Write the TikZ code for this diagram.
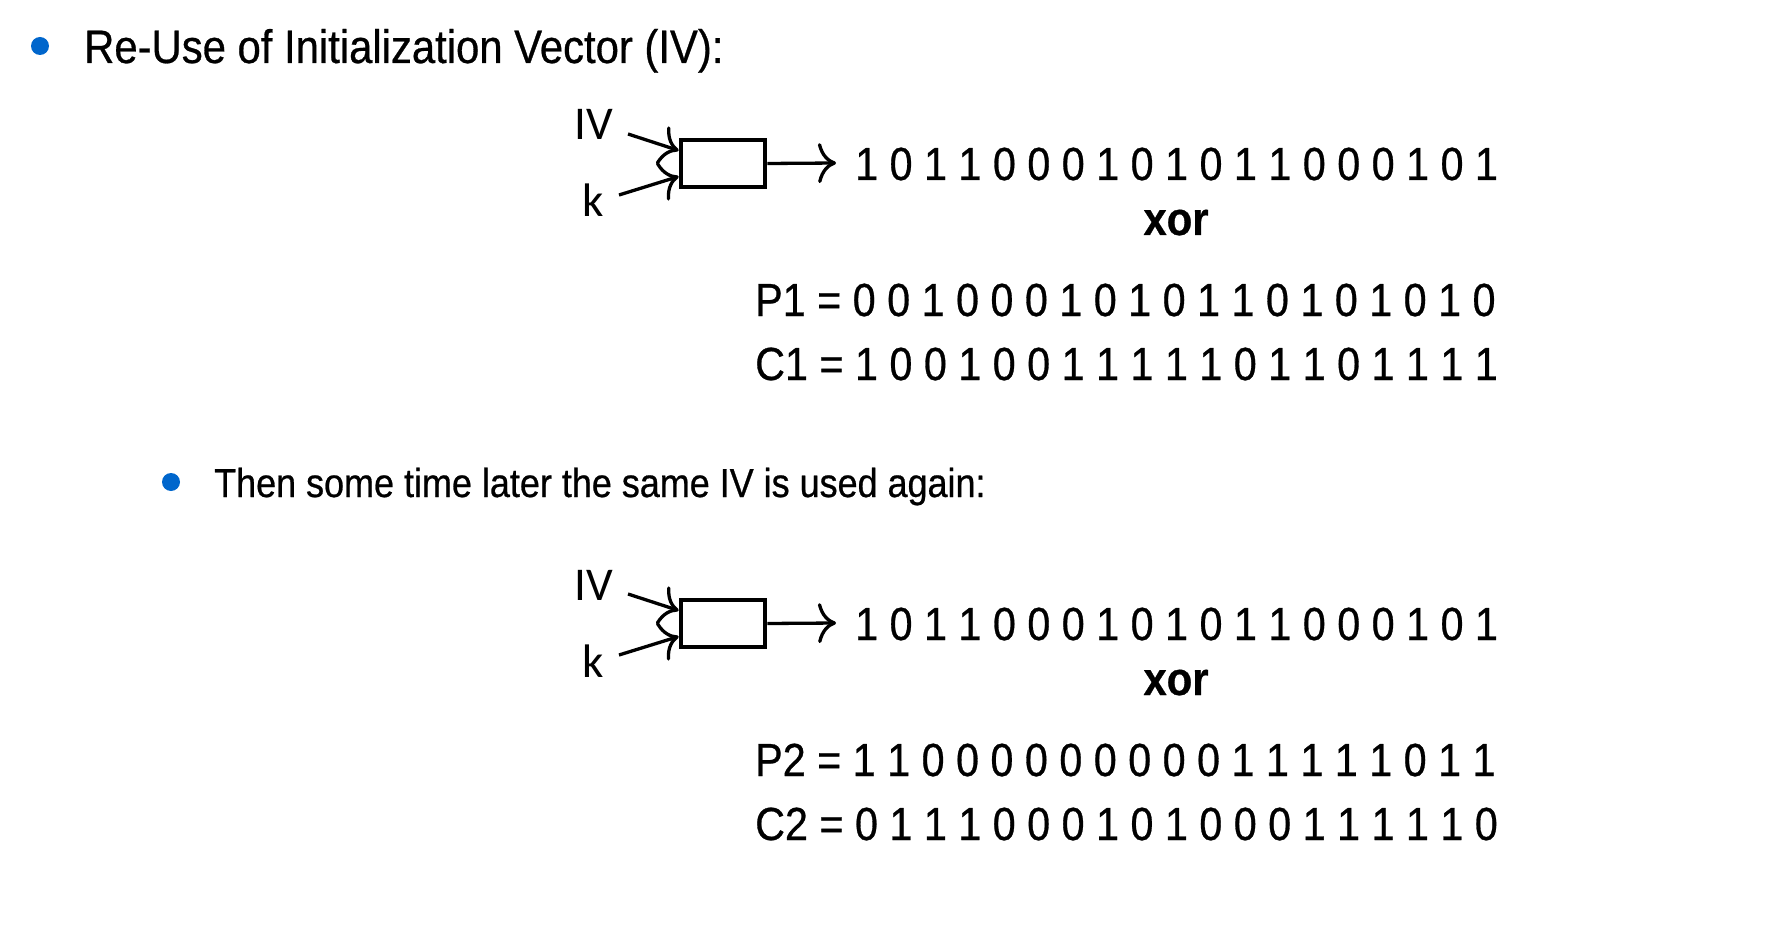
\documentclass[tikz,border=0pt]{standalone}
\usepackage{fontspec}
\setmainfont{Liberation Sans}[FakeStretch=0.89,FakeBold=0.6]
\newfontfamily\calib{Carlito}
\usetikzlibrary{arrows.meta,calc}
\definecolor{bulletblue}{RGB}{0,102,204}
\begin{document}
\begin{tikzpicture}[x=1pt,y=-1pt,
  txt/.style={inner sep=0pt, anchor=base west, font=\fontsize{47}{56}\selectfont},
  bits/.style={inner sep=0pt, anchor=base west, font=\fontsize{46.4}{56}\selectfont},
  subtxt/.style={inner sep=0pt, anchor=base west, font=\fontsize{40.4}{49}\selectfont},
  lbl/.style={inner sep=0pt, anchor=base west, font=\calib\fontsize{47}{56}\selectfont},
  xorlbl/.style={inner sep=0pt, anchor=base, font=\bfseries\fontsize{47}{56}\selectfont},
  bullet/.style={circle, fill=bulletblue, inner sep=0pt, minimum size=18pt},
  boxst/.style={draw, line width=4.7pt, minimum width=84pt, minimum height=47pt, inner sep=0pt},
  arr/.style={line width=3.3pt, -{Computer Modern Rightarrow[length=18pt,width=40pt,line width=3.3pt]}}]
\useasboundingbox (0,0) rectangle (1771,933);

\node[bullet] (b1) at (40,46) {};
\node[txt] (title) at (84,63) {Re-Use of Initialization Vector (IV):};

\node[bullet] (b2) at (171,482) {};
\node[subtxt] (sub) at (214,497) {Then some time later the same IV is used again:};

% first diagram
\node[boxst] (box1) at (723,163.5) {};
\node[lbl] (iv1) at (574,140) {IV};
\node[lbl] (k1) at (582,217) {k};
\coordinate (ivs1) at (628,134);
\coordinate (ks1) at (619,195);
\draw[arr] (ivs1) -- ($(box1.west)+(0,-13)$);
\draw[arr] (ks1) -- ($(box1.west)+(0,13)$);
\node[bits] (key1) at (855,180) {1 0 1 1 0 0 0 1 0 1 0 1 1 0 0 0 1 0 1};
\draw[arr] (box1.east) -- ($(key1.base west)+(-19,-17)$);
\node[xorlbl] (xor1) at (1176,235) {xor};
\node[bits] (p1) at (755,316) {P1 = 0 0 1 0 0 0 1 0 1 0 1 1 0 1 0 1 0 1 0};
\node[bits] (c1) at (755,380) {C1 = 1 0 0 1 0 0 1 1 1 1 1 0 1 1 0 1 1 1 1};

% second diagram
\node[boxst] (box2) at (723,623.5) {};
\node[lbl] (iv2) at (574,600) {IV};
\node[lbl] (k2) at (582,677) {k};
\coordinate (ivs2) at (628,594);
\coordinate (ks2) at (619,655);
\draw[arr] (ivs2) -- ($(box2.west)+(0,-13)$);
\draw[arr] (ks2) -- ($(box2.west)+(0,13)$);
\node[bits] (key2) at (855,640) {1 0 1 1 0 0 0 1 0 1 0 1 1 0 0 0 1 0 1};
\draw[arr] (box2.east) -- ($(key2.base west)+(-19,-17)$);
\node[xorlbl] (xor2) at (1176,695) {xor};
\node[bits] (p2) at (755,776) {P2 = 1 1 0 0 0 0 0 0 0 0 0 1 1 1 1 1 0 1 1};
\node[bits] (c2) at (755,840) {C2 = 0 1 1 1 0 0 0 1 0 1 0 0 0 1 1 1 1 1 0};
\end{tikzpicture}
\end{document}
